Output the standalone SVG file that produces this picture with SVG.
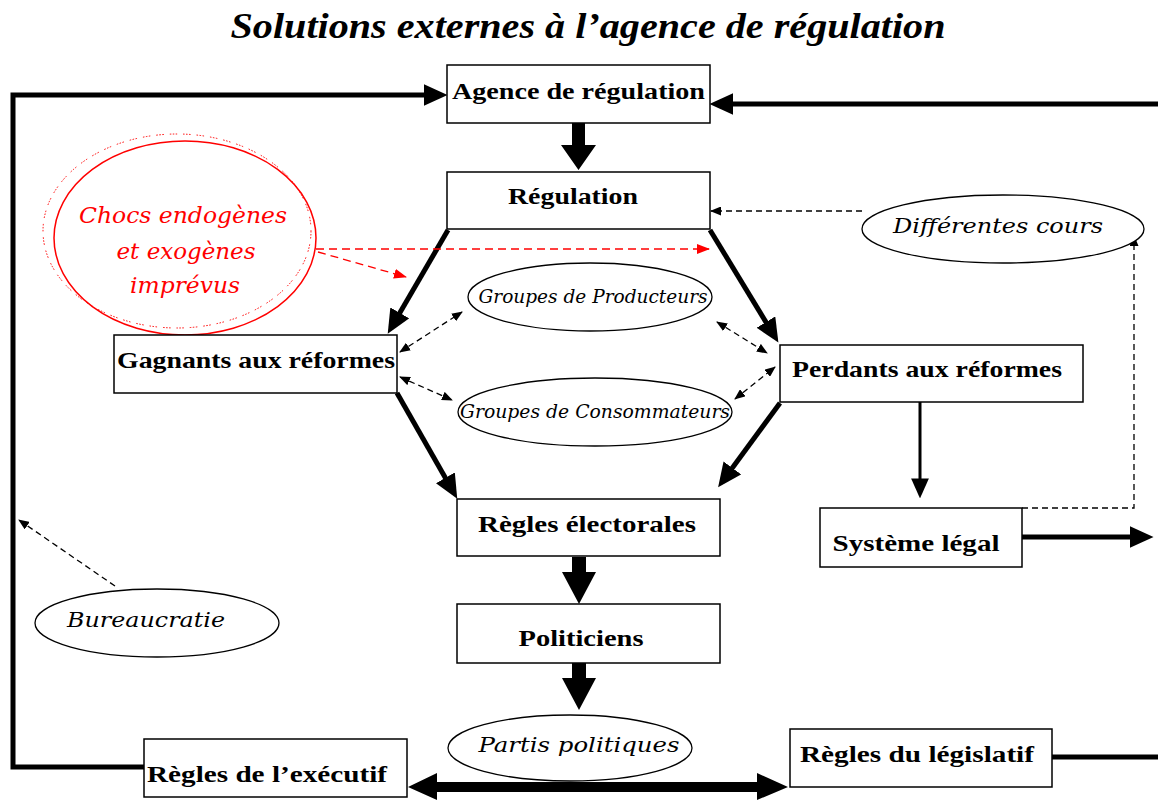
<svg xmlns="http://www.w3.org/2000/svg" width="1158" height="800" viewBox="0 0 1158 800">
<defs>
<style>
.box{fill:#fff;stroke:#000;stroke-width:1.5}
.ell{fill:#fff;stroke:#000;stroke-width:1.3}
.lbl{font-family:"Liberation Serif","Times New Roman",serif;font-weight:bold;font-size:24px;fill:#000}
.it{font-family:"DejaVu Serif","Liberation Serif",serif;font-style:italic;font-size:20px;fill:#000}
.red{font-family:"DejaVu Serif","Liberation Serif",serif;font-style:italic;font-size:23px;fill:#f00}
.thick{fill:none;stroke:#000;stroke-width:5;stroke-linecap:butt;stroke-linejoin:miter}
.dash{fill:none;stroke:#000;stroke-width:1.3;stroke-dasharray:6,4}
.rdash{fill:none;stroke:#f00;stroke-width:1.3;stroke-dasharray:8,5}
</style>
<marker id="big" markerUnits="userSpaceOnUse" markerWidth="24" markerHeight="22" refX="16" refY="10" orient="auto" viewBox="0 0 22 20">
<path d="M0,0 L22,10 L0,20 z" fill="#000"/>
</marker>
<marker id="mid" markerUnits="userSpaceOnUse" markerWidth="20" markerHeight="18" refX="14" refY="8" orient="auto" viewBox="0 0 18 16">
<path d="M0,0 L18,8 L0,16 z" fill="#000"/>
</marker>
<marker id="sm" markerUnits="userSpaceOnUse" markerWidth="11" markerHeight="9" refX="10" refY="4.5" orient="auto-start-reverse" viewBox="0 0 11 9">
<path d="M0,0 L11,4.5 L0,9 z" fill="#000"/>
</marker>
<marker id="rsm" markerUnits="userSpaceOnUse" markerWidth="13" markerHeight="10" refX="12" refY="5" orient="auto" viewBox="0 0 13 10">
<path d="M0,0 L13,5 L0,10 z" fill="#f00"/>
</marker>
</defs>
<rect width="1158" height="800" fill="#fff"/>

<text x="588" y="38" text-anchor="middle" textLength="715" lengthAdjust="spacingAndGlyphs" style="font-family:'Liberation Serif','Times New Roman',serif;font-weight:bold;font-style:italic;font-size:36px">Solutions externes à l’agence de régulation</text>

<g id="connectors">
<path class="thick" d="M145,767 L13,767 L13,95 L441,95" marker-end="url(#big)"/>
<path class="thick" d="M1158,104 L716,104" marker-end="url(#big)"/>
<path class="thick" d="M1052,757 L1158,757"/>
<path class="thick" d="M1022,537 L1147,537" marker-end="url(#big)"/>
<path class="thick" d="M448,230 L391,328" marker-end="url(#big)"/>
<path class="thick" d="M710,230 L775,337" marker-end="url(#big)"/>
<path class="thick" d="M397,393 L454,493" marker-end="url(#big)"/>
<path class="thick" d="M780,403 L722,482" marker-end="url(#big)"/>
<path d="M920,402 L920,494" stroke="#000" stroke-width="3" fill="none" marker-end="url(#mid)"/>
<path d="M572,123 L585,123 L585,145 L596,145 L578.5,170 L561,145 L572,145 z" fill="#000"/>
<path d="M572,557 L586,557 L586,572 L596,572 L579,604 L562,572 L572,572 z" fill="#000"/>
<path d="M572,663 L586,663 L586,678 L596,678 L579,710 L562,678 L572,678 z" fill="#000"/>
<path d="M408,787 L437,773 L437,782 L757,782 L757,773 L788,787 L757,800 L757,792 L437,792 L437,800 z" fill="#000"/>
<path class="dash" d="M400,352 L462,312" marker-start="url(#sm)" marker-end="url(#sm)"/>
<path class="dash" d="M400,377 L452,400" marker-start="url(#sm)" marker-end="url(#sm)"/>
<path class="dash" d="M717,322 L767,353" marker-start="url(#sm)" marker-end="url(#sm)"/>
<path class="dash" d="M735,399 L775,367" marker-start="url(#sm)" marker-end="url(#sm)"/>
<path class="dash" d="M862,211 L711,211" marker-end="url(#sm)"/>
<path class="dash" d="M1022,508 L1134,508 L1134,236" marker-end="url(#sm)"/>
<path class="dash" d="M115,586 L19,520" marker-end="url(#sm)"/>
<path class="rdash" d="M316,249 L709,249" marker-end="url(#rsm)"/>
<path class="rdash" d="M318,252 L406,277" marker-end="url(#rsm)"/>
</g>

<g id="chocs">
<ellipse cx="177" cy="231" rx="134" ry="97" fill="none" stroke="#f00" stroke-width="1" stroke-dasharray="1.5,1.5,1.5,1.5,1.5,6"/>
<ellipse cx="185" cy="238" rx="131" ry="97" fill="none" stroke="#f00" stroke-width="1.5"/>
<text class="red" x="183" y="223" text-anchor="middle" textLength="208" lengthAdjust="spacingAndGlyphs">Chocs endogènes</text>
<text class="red" x="186" y="259" text-anchor="middle" textLength="139" lengthAdjust="spacingAndGlyphs">et exogènes</text>
<text class="red" x="185" y="293" text-anchor="middle" textLength="110" lengthAdjust="spacingAndGlyphs">imprévus</text>
</g>

<g id="agence">
<rect class="box" x="447" y="65" width="263" height="58"/>
<text class="lbl" x="578.5" y="99" text-anchor="middle" textLength="253" lengthAdjust="spacingAndGlyphs">Agence de régulation</text>
</g>
<g id="regulation">
<rect class="box" x="447" y="172" width="263" height="57"/>
<text class="lbl" x="573" y="204" text-anchor="middle" textLength="130" lengthAdjust="spacingAndGlyphs">Régulation</text>
</g>
<g id="gagnants">
<rect class="box" x="114" y="335" width="283" height="58"/>
<text class="lbl" x="256" y="368" text-anchor="middle" textLength="278" lengthAdjust="spacingAndGlyphs">Gagnants aux réformes</text>
</g>
<g id="perdants">
<rect class="box" x="780" y="345" width="303" height="57"/>
<text class="lbl" x="927" y="377" text-anchor="middle" textLength="270" lengthAdjust="spacingAndGlyphs">Perdants aux réformes</text>
</g>
<g id="producteurs">
<ellipse class="ell" cx="590" cy="297" rx="122" ry="34"/>
<text class="it" x="593" y="303" text-anchor="middle" textLength="229" lengthAdjust="spacingAndGlyphs" style="font-size:18px">Groupes de Producteurs</text>
</g>
<g id="consommateurs">
<ellipse class="ell" cx="595" cy="412" rx="137" ry="34"/>
<text class="it" x="595" y="418" text-anchor="middle" textLength="270" lengthAdjust="spacingAndGlyphs" style="font-size:18px">Groupes de Consommateurs</text>
</g>
<g id="cours">
<ellipse class="ell" cx="1003" cy="229" rx="141" ry="34"/>
<text class="it" x="998" y="233" text-anchor="middle" textLength="210" lengthAdjust="spacingAndGlyphs">Différentes cours</text>
</g>
<g id="electorales">
<rect class="box" x="457" y="499" width="263" height="57"/>
<text class="lbl" x="587" y="532" text-anchor="middle" textLength="218" lengthAdjust="spacingAndGlyphs">Règles électorales</text>
</g>
<g id="systeme">
<rect class="box" x="820" y="508" width="202" height="59"/>
<text class="lbl" x="916" y="551" text-anchor="middle" textLength="167" lengthAdjust="spacingAndGlyphs">Système légal</text>
</g>
<g id="bureaucratie">
<ellipse class="ell" cx="157" cy="623" rx="122" ry="34"/>
<text class="it" x="146" y="627" text-anchor="middle" textLength="158" lengthAdjust="spacingAndGlyphs">Bureaucratie</text>
</g>
<g id="politiciens">
<rect class="box" x="457" y="604" width="263" height="59"/>
<text class="lbl" x="581" y="646" text-anchor="middle" textLength="125" lengthAdjust="spacingAndGlyphs">Politiciens</text>
</g>
<g id="partis">
<ellipse class="ell" cx="570" cy="748" rx="122" ry="33"/>
<text class="it" x="579" y="752" text-anchor="middle" textLength="201" lengthAdjust="spacingAndGlyphs">Partis politiques</text>
</g>
<g id="legislatif">
<rect class="box" x="790" y="729" width="262" height="58"/>
<text class="lbl" x="917" y="762" text-anchor="middle" textLength="234" lengthAdjust="spacingAndGlyphs">Règles du législatif</text>
</g>
<g id="executif">
<rect class="box" x="144" y="739" width="263" height="58"/>
<text class="lbl" x="267" y="782" text-anchor="middle" textLength="240" lengthAdjust="spacingAndGlyphs">Règles de l’exécutif</text>
</g>
</svg>
